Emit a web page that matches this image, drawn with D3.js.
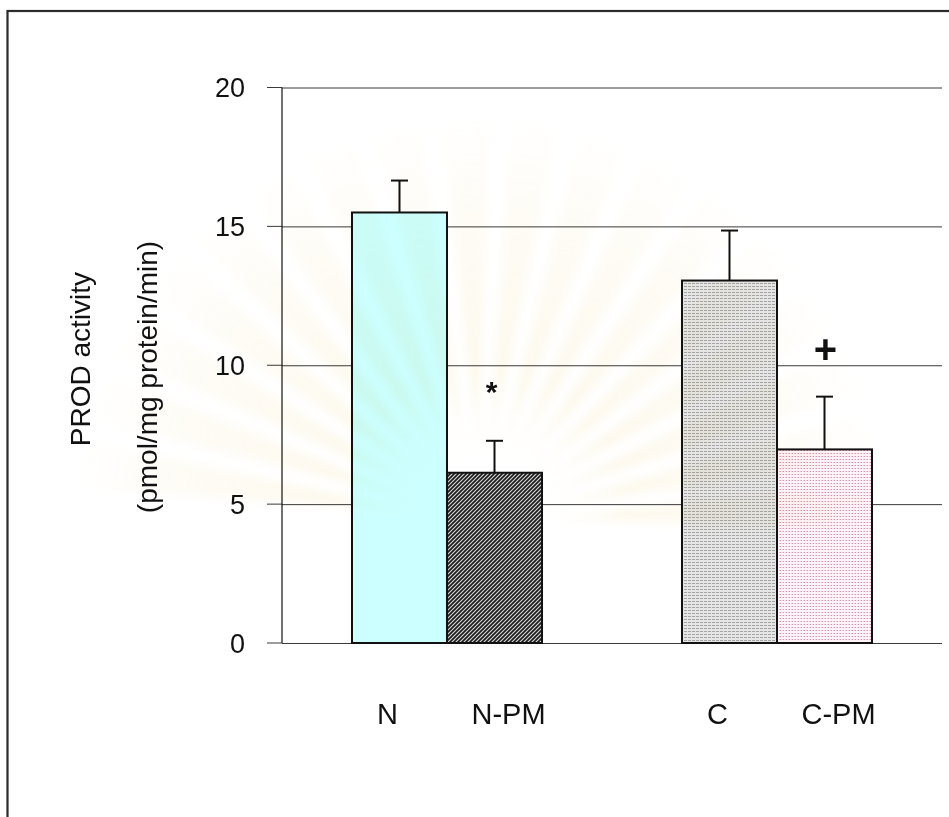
<!DOCTYPE html>
<html>
<head>
<meta charset="utf-8">
<script src="https://cdn.jsdelivr.net/npm/d3@7"></script>
<style>
  html, body { margin: 0; padding: 0; background: #fff; }
  svg { display: block; font-family: "Liberation Sans", Arial, sans-serif; }
  .emblem { mix-blend-mode: multiply; pointer-events: none; }
</style>
</head>
<body>
<svg id="chart" width="949" height="817"></svg>
<script>
// PROD activity per group (mean, with upward SE bars)
const groups = ["N", "C"];
const categories = ["N", "N-PM", "C", "C-PM"];
const categoryGroup = ["N", "N", "C", "C"];
const values = [15.5, 6.13, 13.05, 6.97];
const errors = [1.15, 1.15, 1.8, 1.9];
const significance = ["", "*", "", "+"];
const yTicks = [0, 5, 10, 15, 20];
const yTitle = "PROD activity";
const yUnits = "(pmol/mg protein/min)";

const svg = d3.select("#chart");
const plot = { left: 282, right: 942, top: 87.5, bottom: 643 };

const defs = svg.append("defs");

// fill patterns for the four bars
const pDark = defs.append("pattern").attr("id", "hatchDark")
  .attr("patternUnits", "userSpaceOnUse").attr("width", 4).attr("height", 4);
pDark.append("rect").attr("width", 4).attr("height", 4).attr("fill", "#d8d8d8");
pDark.append("path").attr("d", "M-1,1 l2,-2 M0,4 l4,-4 M3,5 l2,-2")
  .attr("stroke", "#1a1a1a").attr("stroke-width", 1.7);

const pGray = defs.append("pattern").attr("id", "horizGray")
  .attr("patternUnits", "userSpaceOnUse").attr("width", 4).attr("height", 3);
pGray.append("rect").attr("width", 4).attr("height", 3).attr("fill", "#e6e6e6");
pGray.append("rect").attr("y", 1).attr("width", 3).attr("height", 1).attr("fill", "#a4a4a4");

const pPink = defs.append("pattern").attr("id", "pinkDots")
  .attr("patternUnits", "userSpaceOnUse").attr("width", 3).attr("height", 3);
pPink.append("rect").attr("width", 3).attr("height", 3).attr("fill", "#fdf4f8");
pPink.append("rect").attr("width", 1).attr("height", 1).attr("fill", "#e08cb4");
pPink.append("rect").attr("x", 2).attr("y", 0).attr("width", 1).attr("height", 1).attr("fill", "#f0c6da");

const fills = ["#ccffff", "url(#hatchDark)", "url(#horizGray)", "url(#pinkDots)"];

// soft glow used by the background emblem
const glow = defs.append("radialGradient").attr("id", "rayGlow")
  .attr("gradientUnits", "userSpaceOnUse").attr("cx", 480).attr("cy", 520).attr("r", 420);
glow.append("stop").attr("offset", "0.12").attr("stop-color", "#fbf3dc").attr("stop-opacity", 0);
glow.append("stop").attr("offset", "0.35").attr("stop-color", "#f8ecc8").attr("stop-opacity", 0.7);
glow.append("stop").attr("offset", "0.75").attr("stop-color", "#fbf1d6").attr("stop-opacity", 0.5);
glow.append("stop").attr("offset", "1").attr("stop-color", "#fdf8ea").attr("stop-opacity", 0);
defs.append("filter").attr("id", "soft").attr("x", "-20%").attr("y", "-20%")
  .attr("width", "140%").attr("height", "140%")
  .append("feGaussianBlur").attr("stdDeviation", 4);

// scales
const y = d3.scaleLinear().domain([0, 20]).range([plot.bottom, plot.top]);
const x0 = d3.scaleBand().domain(groups).range([plot.left, plot.right])
  .paddingInner(0.4242).paddingOuter(0.2121);
const x1 = d3.scaleBand().domain([0, 1]).range([0, x0.bandwidth()]);
const barX = i => x0(categoryGroup[i]) + x1(categories.filter((c, j) => categoryGroup[j] === categoryGroup[i]).indexOf(categories[i]));

// outer frame
svg.append("rect").attr("x", 7.5).attr("y", 11).attr("width", 1100).attr("height", 1000)
  .attr("fill", "none").attr("stroke", "#2b2b2b").attr("stroke-width", 2.2);

// gridlines
const axis = d3.axisLeft(y).tickValues(yTicks)
  .tickSize(plot.right - plot.left).tickPadding(0).tickFormat("");
svg.append("g").attr("transform", `translate(${plot.right},0)`).call(axis)
  .call(g => g.select(".domain").remove())
  .call(g => g.selectAll(".tick line").attr("stroke", "#3a3a3a").attr("stroke-width", 1));

// tick marks to the left of the axis
svg.append("g").selectAll("line").data(yTicks).join("line")
  .attr("x1", plot.left - 15).attr("x2", plot.left)
  .attr("y1", d => y(d)).attr("y2", d => y(d))
  .attr("stroke", "#3a3a3a").attr("stroke-width", 1);

svg.append("g").selectAll("text").data(yTicks).join("text")
  .attr("x", plot.left - 37).attr("y", d => y(d)).attr("dy", "0.36em")
  .attr("text-anchor", "end").attr("font-size", 27).attr("fill", "#111")
  .text(d => d);

svg.append("line").attr("x1", plot.left).attr("x2", plot.left)
  .attr("y1", y(20)).attr("y2", y(0)).attr("stroke", "#111").attr("stroke-width", 1.2);

// bars
const idx = d3.range(categories.length);
svg.append("g").selectAll("rect").data(idx).join("rect")
  .attr("x", i => barX(i)).attr("width", x1.bandwidth())
  .attr("y", i => y(values[i])).attr("height", i => y(0) - y(values[i]))
  .attr("fill", i => fills[i]).attr("stroke", "#111").attr("stroke-width", 2);

// error bars (upper half only)
const eb = svg.append("g").attr("stroke", "#111").attr("stroke-width", 2);
idx.forEach(i => {
  const cx = barX(i) + x1.bandwidth() / 2;
  eb.append("line").attr("x1", cx).attr("x2", cx)
    .attr("y1", y(values[i])).attr("y2", y(values[i] + errors[i]));
  eb.append("line").attr("x1", cx - 8.5).attr("x2", cx + 8.5)
    .attr("y1", y(values[i] + errors[i])).attr("y2", y(values[i] + errors[i]));
});

// significance markers
svg.append("g").selectAll("text").data(idx.filter(i => significance[i])).join("text")
  .attr("x", i => barX(i) + x1.bandwidth() / 2 + (significance[i] === "*" ? -3 : 1))
  .attr("y", i => y(values[i] + errors[i]) - (significance[i] === "*" ? 39 : 34))
  .attr("text-anchor", "middle").attr("font-weight", "bold")
  .attr("font-size", i => significance[i] === "*" ? 30 : 40).attr("fill", "#111")
  .text(i => significance[i]);

// category labels
svg.append("g").selectAll("text").data(idx).join("text")
  .attr("x", i => barX(i) + x1.bandwidth() / 2 + (i % 2 === 0 ? -12 : 14))
  .attr("y", plot.bottom + 81)
  .attr("text-anchor", "middle").attr("font-size", 29).attr("fill", "#111")
  .text(i => categories[i]);

// axis titles
svg.append("text").attr("transform", "translate(90,359) rotate(-90)")
  .attr("text-anchor", "middle").attr("font-size", 28).attr("fill", "#111")
  .text(yTitle);
svg.append("text").attr("transform", "translate(157,377) rotate(-90)")
  .attr("text-anchor", "middle").attr("font-size", 28).attr("fill", "#111")
  .text(yUnits);

// faint background emblem: soft radiating rays
const emblem = svg.append("g").attr("class", "emblem").attr("opacity", 0.45)
  .attr("filter", "url(#soft)");
const rayAngles = d3.range(-172, 0, 10);
const cx0 = 480, cy0 = 520;
emblem.append("g").selectAll("path").data(rayAngles).join("path")
  .attr("d", a => {
    const r0 = 60, r1 = 400, half = 3.4;
    const p = (ang, r) => [cx0 + r * Math.cos(ang * Math.PI / 180), cy0 + r * Math.sin(ang * Math.PI / 180)];
    return `M${p(a - 0.8, r0)}L${p(a - half, r1)}L${p(a + half, r1)}L${p(a + 0.8, r0)}Z`;
  })
  .attr("fill", "url(#rayGlow)");
</script>
</body>
</html>
